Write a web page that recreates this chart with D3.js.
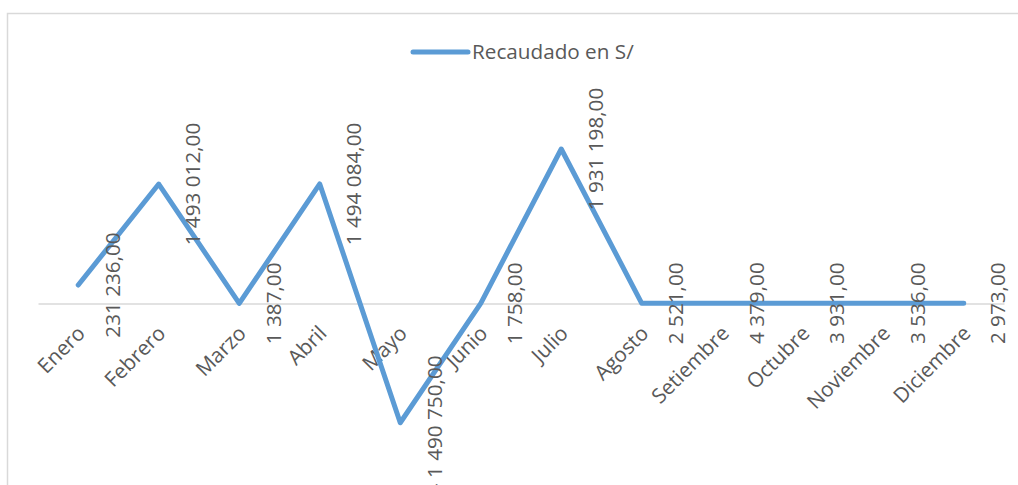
<!DOCTYPE html>
<html>
<head>
<meta charset="utf-8">
<script src="https://cdn.jsdelivr.net/npm/d3@7"></script>
<style>
  html, body { margin: 0; padding: 0; background: #ffffff; }
  svg { display: block; }
  text { font-family: "Open Sans", "Noto Sans", sans-serif; fill: #595959; }
</style>
</head>
<body>
<svg id="chart" width="1018" height="485"></svg>
<script>
// ---- data ----
const categories = ["Enero", "Febrero", "Marzo", "Abril", "Mayo", "Junio", "Julio",
  "Agosto", "Setiembre", "Octubre", "Noviembre", "Diciembre"];
const recaudado = [231236, 1493012, 1387, 1494084, -1490750, 1758, 1931198,
  2521, 4379, 3931, 3536, 2973];
const seriesName = "Recaudado en S/";
const valueDomain = [-2000000, 2500000];

// ---- layout ----
const W = 1018, H = 485;
const plot = { left: 38, right: 1004, top: 103.5, bottom: 463.5 };
const color = "#5b9bd5";
const fontSize = 20.7;

const svg = d3.select("#chart");

// chart area border (extends past the photographed window)
svg.append("rect")
  .attr("x", 7.5).attr("y", 13.5)
  .attr("width", W + 20).attr("height", H + 20)
  .attr("fill", "none")
  .attr("stroke", "#d9d9d9")
  .attr("stroke-width", 1.5);

const x = d3.scaleBand().domain(categories).range([plot.left, plot.right]).padding(0);
const y = d3.scaleLinear().domain(valueDomain).range([plot.bottom, plot.top]);
const cx = c => x(c) + x.bandwidth() / 2;

// category axis line at zero
const axis = svg.append("g")
  .attr("transform", `translate(0,${y(0)})`)
  .call(d3.axisBottom(x).tickSize(0).tickFormat(""));
axis.select(".domain").attr("stroke", "#d9d9d9").attr("stroke-width", 1.5);

// category labels (rotated -45)
svg.append("g").selectAll("text")
  .data(categories)
  .join("text")
  .attr("transform", d => `translate(${cx(d) + 3},${y(0) + 26}) rotate(-45)`)
  .attr("text-anchor", "end")
  .attr("dy", "0.35em")
  .attr("font-size", fontSize)
  .text(d => d);

// line
const data = categories.map((c, i) => ({ c, v: recaudado[i] }));
svg.append("path")
  .datum(data)
  .attr("fill", "none")
  .attr("stroke", color)
  .attr("stroke-width", 5)
  .attr("stroke-linejoin", "round")
  .attr("stroke-linecap", "round")
  .attr("d", d3.line().x(d => cx(d.c)).y(d => y(d.v)));

// data labels
const loc = d3.formatLocale({ decimal: ",", thousands: " ", grouping: [3], currency: ["", ""], minus: "- " });
const fmt = loc.format(",.2f");
svg.append("g").selectAll("text")
  .data(data)
  .join("text")
  .attr("transform", d => `translate(${cx(d.c) + 34},${y(d.v)}) rotate(-90)`)
  .attr("text-anchor", "middle")
  .attr("dy", "0.35em")
  .attr("font-size", fontSize)
  .text(d => fmt(d.v));

// legend
const lg = svg.append("g").attr("transform", "translate(413,52)");
lg.append("line")
  .attr("x1", 0).attr("x2", 55).attr("y1", 0).attr("y2", 0)
  .attr("stroke", color).attr("stroke-width", 5).attr("stroke-linecap", "round");
lg.append("text")
  .attr("x", 59).attr("y", 0).attr("dy", "0.35em")
  .attr("font-size", fontSize)
  .text(seriesName);
</script>
</body>
</html>
